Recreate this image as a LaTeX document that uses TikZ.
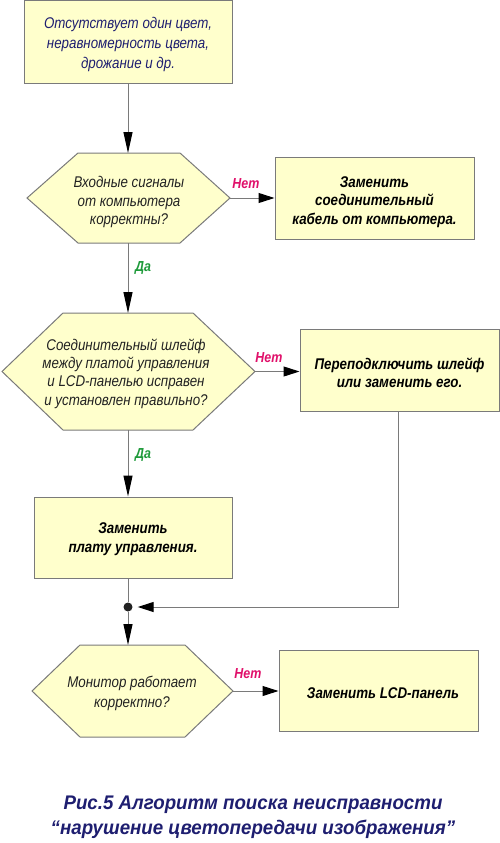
\documentclass[tikz,border=0pt]{standalone}
\usepackage{fontspec}
\setmainfont[FakeStretch=0.86]{Liberation Sans}
\newfontfamily\capfont[FakeStretch=0.95]{Liberation Sans}
\usetikzlibrary{arrows.meta,calc}
\definecolor{boxfill}{HTML}{FFFFCC}
\definecolor{edge}{HTML}{7A7A7A}
\definecolor{navy}{HTML}{1E1E70}
\definecolor{txt}{HTML}{222222}
\definecolor{net}{HTML}{E0106A}
\definecolor{da}{HTML}{1E9A3A}
\tikzset{
  box/.style={draw=edge, fill=boxfill, line width=1pt, rectangle, inner sep=0pt, align=center},
  hexa/.style={draw=edge, fill=boxfill, line width=1pt},
  qtext/.style={align=center, font=\fontsize{15.5}{18.3}\selectfont\itshape, text=txt},
  atext/.style={font=\fontsize{15.5}{18.5}\selectfont\bfseries\itshape, text=black},
  vconn/.style={draw=edge, line width=1pt, -{Triangle[length=21pt,width=9pt,fill=black,color=black]}},
  hconn/.style={draw=edge, line width=1pt, -{Triangle[length=16pt,width=10pt,fill=black,color=black]}},
  plain/.style={draw=edge, line width=1pt},
  lblno/.style={font=\fontsize{14.5}{16}\selectfont\bfseries\itshape, text=net},
  lblyes/.style={font=\fontsize{14.5}{16}\selectfont\bfseries\itshape, text=da},
}
\begin{document}
\begin{tikzpicture}[x=1pt,y=-1pt]
\useasboundingbox (0,0) rectangle (500,843);
% start box
\node[box, minimum width=208pt, minimum height=82pt, text=navy] (b1) at (128,42) {};
\node[font=\fontsize{15.5}{20}\selectfont\itshape, text=navy, align=center] (t1) at (128,44)
  {Отсутствует один цвет,\\неравномерность цвета,\\дрожание и др.};
% hexagon 1
\filldraw[hexa] (27,198) -- (78,153) -- (180,153) -- (230,198) -- (180,243) -- (78,243) -- cycle;
\coordinate (d1n) at (128,153);
\coordinate (d1e) at (230,198);
\coordinate (d1s) at (128,243);
\node[qtext] (d1) at (129,202) {Входные сигналы\\от компьютера\\корректны?};
% box 2
\node[box, minimum width=199pt, minimum height=82pt] (b2) at (374.5,198) {};
\node[atext, align=center] (t2) at (374.5,202) {Заменить\\соединительный\\кабель от компьютера.};
% hexagon 2
\filldraw[hexa] (2,371.5) -- (63,313) -- (193,313) -- (255,371.5) -- (193,430) -- (63,430) -- cycle;
\coordinate (d2n) at (128,313);
\coordinate (d2e) at (255,371.5);
\coordinate (d2s) at (128,430);
\node[qtext] (d2) at (126,373.5) {Соединительный шлейф\\между платой управления\\и LCD-панелью исправен\\и установлен правильно?};
% box 3
\node[box, minimum width=199pt, minimum height=82pt] (b3) at (399.5,370) {};
\node[atext, align=center] (t3) at (399.5,373) {Переподключить шлейф\\или заменить его.};
% box 4
\node[box, minimum width=198pt, minimum height=81pt] (b4) at (133,537.5) {};
\node[atext, align=center] (t4) at (133,539) {Заменить\\плату управления.};
% junction dot
\node[circle, fill=txt, inner sep=0pt, minimum size=9pt] (j) at (128,607) {};
\coordinate (c3) at (398,607);
% hexagon 3
\filldraw[hexa] (32,691) -- (80,645) -- (185,645) -- (233,691) -- (185,737) -- (80,737) -- cycle;
\coordinate (d3n) at (128,645);
\coordinate (d3e) at (233,691);
\node[font=\fontsize{15.5}{20}\selectfont\itshape, text=txt, align=center] (d3) at (132,693) {Монитор работает\\корректно?};
% box 5
\node[box, minimum width=199pt, minimum height=81pt] (b5) at (378.5,690.5) {};
\node[atext] (t5) at (383,693) {Заменить LCD-панель};
% connectors
\draw[vconn] (b1.south -| d1n) -- (d1n);
\draw[hconn] (d1e) -- (b2.west |- d1e);
\draw[vconn] (d1s) -- (d2n);
\draw[hconn] (d2e) -- (b3.west |- d2e);
\draw[vconn] (d2s) -- (b4.north -| d2s);
\draw[plain] (b4.south -| j) -- (j);
\draw[hconn, shorten >=5pt] (b3.south -| c3) -- (c3) -- (j.east);
\draw[vconn] (j) -- (d3n);
\draw[hconn] (d3e) -- (b5.west |- d3e);
% labels
\node[lblno] (n1) at (246,184) {Нет};
\node[lblno] (n2) at (269,358) {Нет};
\node[lblno] (n3) at (248,674) {Нет};
\node[lblyes] (y1) at (143,268) {Да};
\node[lblyes] (y2) at (143,455) {Да};
% caption
\node[font=\fontsize{19.7}{25}\selectfont\capfont\bfseries\itshape, text=navy, align=center] (cap) at (253,817)
  {Рис.5 Алгоритм поиска неисправности\\“нарушение цветопередачи изображения”};
\end{tikzpicture}
\end{document}
